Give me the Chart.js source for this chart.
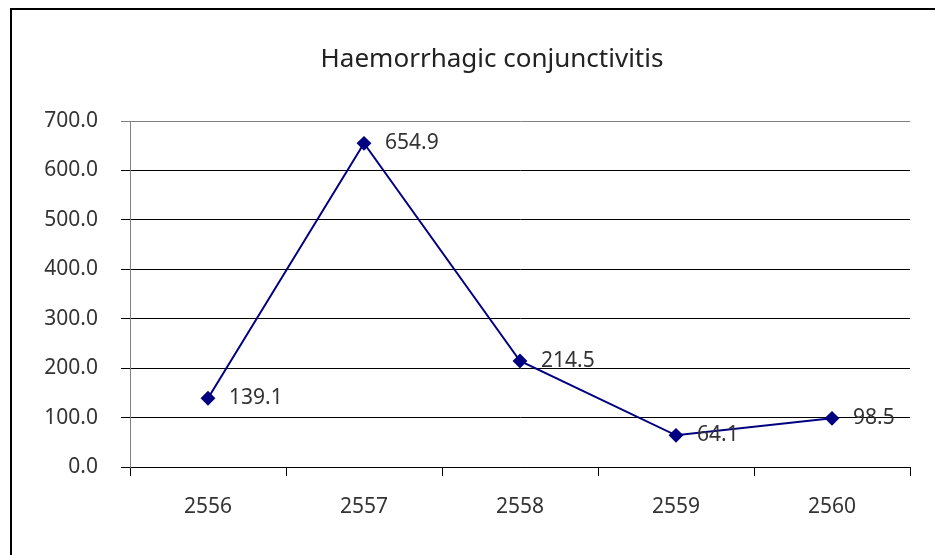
<!DOCTYPE html>
<html>
<head>
<meta charset="utf-8">
<script src="https://cdn.jsdelivr.net/npm/chart.js@4"></script>
<style>
  html, body { margin: 0; padding: 0; background: #fff; }
  #wrap { position: relative; width: 935px; height: 555px; }
  #frame { position: absolute; left: 10px; top: 8px; width: 930px; height: 560px;
           border-top: 2px solid #000; border-left: 2px solid #000; pointer-events: none; }
</style>
</head>
<body>
<div id="wrap">
  <canvas id="chart" width="935" height="555"></canvas>
  <div id="frame"></div>
</div>
<script>
const years = ["2556", "2557", "2558", "2559", "2560"];
const rates = [139.1, 654.9, 214.5, 64.1, 98.5];
const yTicks = [0, 100, 200, 300, 400, 500, 600, 700];
const titleText = "Haemorrhagic conjunctivitis";

const FONT = "'Noto Sans', sans-serif";

// title sits over the middle of the frame, not the canvas
const frameTitle = {
  id: "frameTitle",
  afterDraw(chart) {
    const ctx = chart.ctx;
    ctx.save();
    ctx.font = "26px " + FONT;
    ctx.fillStyle = "#222";
    ctx.textAlign = "center";
    ctx.textBaseline = "middle";
    ctx.fillText(titleText, 492, 60);
    ctx.restore();
  },
};

// draw the value next to each point
const valueLabels = {
  id: "valueLabels",
  afterDatasetsDraw(chart) {
    const ctx = chart.ctx;
    const meta = chart.getDatasetMeta(0);
    ctx.save();
    ctx.font = "21px " + FONT;
    ctx.fillStyle = "#333";
    ctx.textAlign = "left";
    ctx.textBaseline = "middle";
    meta.data.forEach((pt, i) => {
      ctx.fillText(rates[i].toFixed(1), pt.x + 21, pt.y);
    });
    ctx.restore();
  },
};

new Chart(document.getElementById("chart"), {
  type: "line",
  data: {
    labels: years,
    datasets: [
      {
        data: rates,
        borderColor: "#000080",
        backgroundColor: "#000080",
        borderWidth: 2,
        pointStyle: "rectRot",
        pointRadius: 6,
        pointHoverRadius: 6,
        tension: 0,
      },
    ],
  },
  options: {
    responsive: false,
    animation: false,
    layout: { padding: { left: 0, right: 25, top: 121, bottom: 0 } },
    plugins: {
      legend: { display: false },
      tooltip: { enabled: false },
      title: { display: false },
    },
    scales: {
      x: {
        offset: true,
        grid: {
          offset: true,
          drawOnChartArea: false,
          tickLength: 9,
          color: "#000",
        },
        border: { color: "#000", width: 1 },
        ticks: { color: "#333", padding: 18, font: { family: FONT, size: 21 } },
        afterFit(scale) { scale.height = 88; },
      },
      y: {
        min: 0,
        max: 700,
        afterBuildTicks(scale) { scale.ticks = yTicks.map((v) => ({ value: v })); },
        grid: {
          tickLength: 9,
          color: (c) => (c.tick && c.tick.value === 700 ? "#808080" : "#000"),
        },
        border: { color: "#808080", width: 1 },
        ticks: {
          color: "#333",
          padding: 23,
          font: { family: FONT, size: 21 },
          callback: (v) => Number(v).toFixed(1),
        },
        afterFit(scale) { scale.width = 130; },
      },
    },
  },
  plugins: [valueLabels, frameTitle],
});
</script>
</body>
</html>
